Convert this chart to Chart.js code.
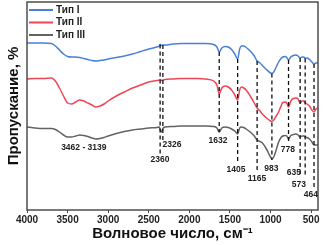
<!DOCTYPE html>
<html>
<head>
<meta charset="utf-8">
<script src="https://cdn.jsdelivr.net/npm/chart.js@4"></script>
<style>
  body { margin: 0; background: #fff; }
  #wrap { width: 328px; height: 245px; }
</style>
</head>
<body>
<div id="wrap"><canvas id="ftirChart" width="328" height="245"></canvas></div>
<script>
// wavenumbers, cm-1
const wavenumbers = [4000, 3900, 3800, 3700, 3650, 3600, 3550, 3500, 3450, 3400,
  3350, 3300, 3250, 3200, 3150, 3100, 3050, 3000, 2900, 2800,
  2700, 2600, 2500, 2400, 2370, 2360, 2345, 2326, 2300, 2200,
  2100, 2000, 1900, 1800, 1700, 1660, 1632, 1600, 1560, 1520,
  1480, 1440, 1405, 1380, 1360, 1330, 1300, 1250, 1200, 1165,
  1130, 1100, 1050, 1000, 983, 960, 930, 900, 870, 850,
  820, 800, 778, 750, 720, 690, 660, 635, 610, 590,
  573, 550, 520, 490, 464, 440, 413];

// transmittance (arbitrary offset units)
const typeI = [83.5, 83.5, 83.5, 83.25, 82, 80, 78, 76.75, 76.5, 76.5,
  76.25, 75.75, 75.25, 74.75, 74.5, 74.75, 75, 75.5, 76.25, 77,
  78, 79.25, 80.5, 81.5, 82, 82.75, 82.25, 82.5, 82.5, 83,
  83.25, 83.25, 83.25, 83.25, 82.75, 81.5, 79, 81, 81.75, 81.5,
  80.25, 78, 75.5, 80.5, 82, 82, 81.25, 79.5, 77, 74.5,
  73.5, 72.25, 70.25, 68.5, 68.25, 69, 71.5, 74, 75.75, 76.5,
  76.75, 76.25, 75, 76.5, 77.25, 77.5, 77, 76, 76.5, 76.5,
  75.75, 76, 75.25, 74, 73, 73.5, 73.75];

const typeII = [65.5, 65.75, 65.75, 66, 64.5, 61, 57, 53.5, 53, 54,
  55, 54.5, 53.5, 52.5, 51.5, 52, 53, 54.5, 57, 59,
  61, 62.5, 64, 64.75, 65, 65.25, 64.75, 65, 65.25, 65.5,
  65.75, 65.75, 65.75, 65.5, 64.5, 62.5, 58, 61, 62, 61.5,
  60, 57.5, 55, 60, 61.5, 61, 60, 57, 53.5, 51,
  49.5, 48, 46, 44.5, 44.25, 45, 47, 49, 52, 53.75,
  54, 53.5, 51.5, 54.5, 55.75, 56, 55.5, 53.5, 54.5, 54.5,
  53.5, 53, 52, 50, 49, 50.5, 51];

const typeIII = [41.5, 41, 40.75, 40.75, 40.25, 39, 37.5, 36.5, 36.5, 37,
  37.5, 37.25, 36.75, 36, 35.5, 35.75, 36.25, 37, 38.25, 39.25,
  40, 40.5, 41, 41.25, 41.5, 40, 39, 40.75, 41.5, 41.75,
  42, 42, 42, 42, 41.75, 41, 39, 41, 41.5, 41.25,
  40.5, 39.5, 38, 41, 41.5, 41.25, 40.5, 39, 37, 35,
  34.25, 33.5, 30.5, 26.5, 25.5, 26.5, 30, 34, 36.25, 37,
  37.25, 37, 35.5, 37.25, 37.75, 38, 37.5, 36.5, 37, 37,
  36.5, 36.25, 35.5, 34, 32.5, 32.5, 32.5];

const seriesNames = ['Тип I', 'Тип II', 'Тип III'];
const seriesColors = ['#4a7fdc', '#ef4655', '#636363'];
const xTicks = [4000, 3500, 3000, 2500, 2000, 1500, 1000, 500];

// marked bands: dashed line from the Тип I curve down to peakEnd
const peakWn = [2360, 2326, 1632, 1405, 1165, 983, 778, 635, 573, 464];
const peakEnd = [28, 35, 39, 23.5, 19.5, 25, 33.5, 17.5, 16.5, 10];
const peakLabels = ['2360', '2326', '1632', '1405', '1165', '983', '778', '635', '573', '464', '3462 - 3139'];
const labelWn = [2362, 2214, 1648, 1426, 1167, 989, 786, 712, 650, 502, 3300];
const labelLevel = [25, 32.5, 34.5, 20, 15.5, 20.75, 30, 18.75, 12.5, 7.75, 31];

const FONT = '"Liberation Sans", Arial, sans-serif';

const lineSets = [typeI, typeII, typeIII].map((vals, i) => ({
  label: seriesNames[i],
  data: wavenumbers.map((w, j) => ({ x: w, y: vals[j] })),
  borderColor: seriesColors[i],
  borderWidth: 1.5,
  pointRadius: 0,
  cubicInterpolationMode: 'monotone',
  order: 2
}));

const dashSets = peakWn.map((w, i) => ({
  label: 'peak ' + w,
  data: [{ x: w, y: typeI[wavenumbers.indexOf(w)] }, { x: w, y: peakEnd[i] }],
  borderColor: '#111',
  borderWidth: 1.3,
  borderDash: [4, 3],
  pointRadius: 0,
  order: 1
}));

const decorations = {
  id: 'decorations',
  afterDatasetsDraw(chart) {
    const { ctx, chartArea: a, scales: { x, y } } = chart;
    ctx.save();
    // frame
    ctx.strokeStyle = '#4d4d4d';
    ctx.lineWidth = 1.5;
    ctx.strokeRect(a.left, a.top, a.right - a.left, a.bottom - a.top);

    // legend
    ctx.font = 'bold 10px ' + FONT;
    ctx.textAlign = 'left';
    ctx.textBaseline = 'middle';
    seriesNames.forEach((name, i) => {
      const ly = a.top + 8 + i * 12.5;
      ctx.strokeStyle = seriesColors[i];
      ctx.lineWidth = 2;
      ctx.beginPath();
      ctx.moveTo(a.left + 2, ly);
      ctx.lineTo(a.left + 26, ly);
      ctx.stroke();
      ctx.fillStyle = '#222';
      ctx.fillText(name, a.left + 29, ly);
    });

    // band labels
    ctx.font = 'bold 8.5px ' + FONT;
    ctx.textAlign = 'center';
    ctx.fillStyle = '#222';
    peakLabels.forEach((t, i) => {
      ctx.fillText(t, x.getPixelForValue(labelWn[i]), y.getPixelForValue(labelLevel[i]));
    });
    ctx.restore();
  }
};

new Chart(document.getElementById('ftirChart').getContext('2d'), {
  type: 'line',
  data: { datasets: lineSets.concat(dashSets) },
  options: {
    responsive: false,
    animation: false,
    parsing: true,
    layout: { padding: { top: 2, right: 10, left: 0, bottom: 0 } },
    plugins: { legend: { display: false }, tooltip: { enabled: false } },
    scales: {
      x: {
        type: 'linear',
        reverse: true,
        min: 415,
        max: 4000,
        afterBuildTicks: scale => { scale.ticks = xTicks.map(v => ({ value: v })); },
        afterFit: scale => { scale.height = 35; },
        border: { display: false },
        grid: { drawOnChartArea: false, drawTicks: true, tickLength: 3, color: '#444', lineWidth: 1 },
        ticks: {
          callback: v => String(v),
          font: { family: FONT, size: 10, weight: 'bold' },
          color: '#222',
          padding: 1,
          maxRotation: 0
        },
        title: {
          display: true,
          text: 'Волновое число, см⁻¹',
          font: { family: FONT, size: 15, weight: 'bold' },
          color: '#111',
          padding: { top: 0, bottom: 2 }
        }
      },
      y: {
        min: 0,
        max: 104,
        afterFit: scale => { scale.width = 27; },
        border: { display: false },
        grid: { display: false },
        ticks: { display: false },
        title: {
          display: true,
          text: 'Пропускание, %',
          font: { family: FONT, size: 15, weight: 'bold' },
          color: '#111',
          padding: { top: 5, bottom: 0 }
        }
      }
    }
  },
  plugins: [decorations]
});
</script>
</body>
</html>
